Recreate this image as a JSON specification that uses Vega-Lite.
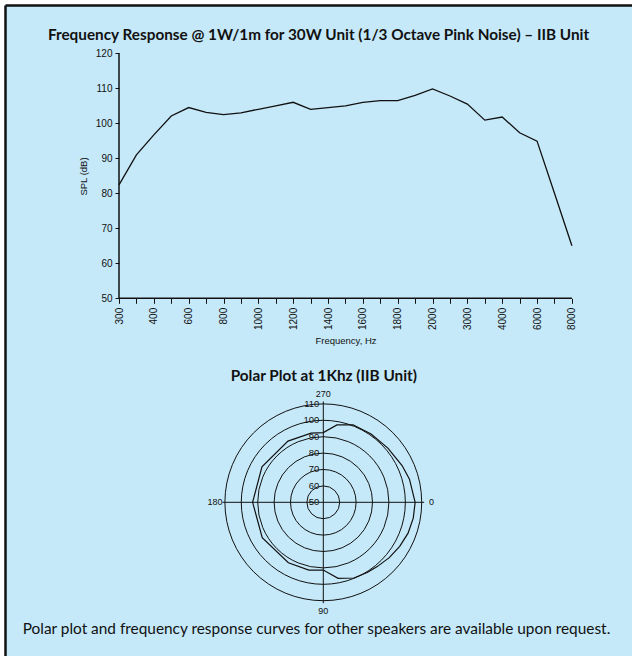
{
  "$schema": "https://vega.github.io/schema/vega-lite/v6.json",
  "width": 627,
  "height": 651,
  "autosize": {"type": "none"},
  "padding": {"left": 5, "top": 5, "right": 0, "bottom": 0},
  "background": "#ffffff",
  "title": {
    "text": "Frequency Response @ 1W/1m for 30W Unit (1/3 Octave Pink Noise) – IIB Unit",
    "offset": -38,
    "anchor": "middle",
    "frame": "group",
    "font": "Lato",
    "fontSize": 15.3,
    "fontWeight": "bold",
    "color": "#111111"
  },
  "datasets": {
    "freq": [
      {"f": 300, "spl": 82.4}, {"f": 350, "spl": 91.0}, {"f": 400, "spl": 96.7},
      {"f": 500, "spl": 102.1}, {"f": 600, "spl": 104.5}, {"f": 700, "spl": 103.1},
      {"f": 800, "spl": 102.5}, {"f": 900, "spl": 103.0}, {"f": 1000, "spl": 104.0},
      {"f": 1100, "spl": 105.0}, {"f": 1200, "spl": 106.0}, {"f": 1300, "spl": 104.0},
      {"f": 1400, "spl": 104.5}, {"f": 1500, "spl": 105.0}, {"f": 1600, "spl": 106.0},
      {"f": 1700, "spl": 106.5}, {"f": 1800, "spl": 106.5}, {"f": 1900, "spl": 108.0},
      {"f": 2000, "spl": 109.8}, {"f": 2500, "spl": 107.8}, {"f": 3000, "spl": 105.5},
      {"f": 3500, "spl": 100.9}, {"f": 4000, "spl": 101.8}, {"f": 5000, "spl": 97.3},
      {"f": 6000, "spl": 94.9}, {"f": 7000, "spl": 80.0}, {"f": 8000, "spl": 65.0}
    ],
    "polar": [
      {"angle": 0, "spl": 106.0}, {"angle": 10, "spl": 105.7}, {"angle": 20, "spl": 105.0},
      {"angle": 30, "spl": 103.8}, {"angle": 40, "spl": 102.5}, {"angle": 50, "spl": 101.2},
      {"angle": 58, "spl": 100.5}, {"angle": 68, "spl": 99.8}, {"angle": 79, "spl": 97.2},
      {"angle": 90, "spl": 91.3}, {"angle": 102, "spl": 92.3}, {"angle": 120, "spl": 92.6},
      {"angle": 150, "spl": 93.0}, {"angle": 180, "spl": 93.1}, {"angle": 210, "spl": 93.2},
      {"angle": 240, "spl": 93.1}, {"angle": 260, "spl": 92.8}, {"angle": 270, "spl": 92.5},
      {"angle": 280, "spl": 97.9}, {"angle": 291, "spl": 100.6}, {"angle": 305, "spl": 100.8},
      {"angle": 320, "spl": 101.4}, {"angle": 335, "spl": 103.0}, {"angle": 345, "spl": 104.4},
      {"angle": 360, "spl": 106.0}
    ],
    "rings": [
      {"ring": 50}, {"ring": 60}, {"ring": 70}, {"ring": 80}, {"ring": 90}, {"ring": 100}, {"ring": 110}
    ],
    "anglabels": [
      {"lab": "0", "angle": 0}, {"lab": "90", "angle": 90}, {"lab": "180", "angle": 180}, {"lab": "270", "angle": 270}
    ]
  },
  "layer": [
    {
      "data": {"name": "freq"},
      "layer": [
        {
          "mark": {"type": "line", "color": "#111111", "strokeWidth": 1.3},
          "encoding": {
            "x": {
              "field": "f",
              "type": "ordinal",
              "sort": "ascending",
              "scale": {"type": "point", "padding": 0, "range": [114, 566.9]},
              "axis": {
                "title": "Frequency, Hz",
                "orient": "bottom",
                "offset": -357.7,
                "domain": false,
                "grid": false,
                "ticks": true,
                "tickSize": 5,
                "tickColor": "#111111",
                "labelAngle": -90,
                "labelFont": "Liberation Sans",
                "labelFontSize": 10,
                "labelColor": "#111111",
                "labelPadding": 4,
                "labelOverlap": false,
                "labelExpr": "(datum.value == 300 || (datum.value <= 2000 && datum.value % 200 == 0) || datum.value == 3000 || datum.value == 4000 || datum.value == 6000 || datum.value == 8000) ? datum.label : ''",
                "titleX": 340.5,
                "titleY": 42,
                "titleAlign": "center",
                "titleBaseline": "middle",
                "titleFont": "Liberation Sans",
                "titleFontSize": 9.5,
                "titleFontWeight": "normal",
                "titleColor": "#111111"
              }
            },
            "y": {
              "field": "spl",
              "type": "quantitative",
              "scale": {"domain": [-52.2, 133.8], "nice": false, "zero": false},
              "axis": {
                "title": "SPL (dB)",
                "orient": "left",
                "offset": -114,
                "values": [50, 60, 70, 80, 90, 100, 110, 120],
                "domain": false,
                "grid": false,
                "tickSize": 4,
                "tickColor": "#111111",
                "labelFont": "Liberation Sans",
                "labelFontSize": 10,
                "labelColor": "#111111",
                "labelPadding": 3,
                "titleX": -36,
                "titleY": 171,
                "titleAngle": 270,
                "titleAlign": "center",
                "titleBaseline": "middle",
                "titleFont": "Liberation Sans",
                "titleFontSize": 9.5,
                "titleFontWeight": "normal",
                "titleColor": "#111111"
              }
            }
          }
        },
        {
          "mark": {"type": "line", "color": "#111111", "strokeWidth": 1.5},
          "encoding": {
            "x": {"field": "f", "type": "ordinal"},
            "y": {"datum": 50, "type": "quantitative"}
          }
        },
        {
          "data": {"values": [{}]},
          "mark": {"type": "rule", "color": "#111111", "strokeWidth": 1.5},
          "encoding": {
            "x": {"datum": 300, "type": "ordinal"},
            "y": {"datum": 50, "type": "quantitative"},
            "y2": {"datum": 120}
          }
        }
      ]
    },
    {
      "layer": [
        {
          "data": {"name": "polar"},
          "transform": [
            {"calculate": "(datum.spl - 50) * cos(datum.angle * PI / 180)", "as": "px"},
            {"calculate": "50 - (datum.spl - 50) * sin(datum.angle * PI / 180)", "as": "py"}
          ],
          "mark": {"type": "line", "color": "#111111", "strokeWidth": 1.2},
          "encoding": {
            "x": {
              "field": "px",
              "type": "quantitative",
              "scale": {"domain": [-194.09, 188.23], "nice": false, "zero": false},
              "axis": {
                "orient": "top",
                "offset": 0,
                "domain": true,
                "domainColor": "#111111",
                "domainWidth": 2.5,
                "ticks": false,
                "labels": false,
                "grid": false,
                "title": "Polar Plot at 1Khz (IIB Unit)",
                "titleX": 318.3,
                "titleY": 370,
                "titleAlign": "center",
                "titleBaseline": "middle",
                "titleFont": "Lato",
                "titleFontSize": 15.3,
                "titleFontWeight": "bold",
                "titleColor": "#111111"
              }
            },
            "y": {
              "field": "py",
              "type": "quantitative",
              "scale": {"domain": [-43.72, 353.23], "nice": false, "zero": false},
              "axis": {
                "orient": "left",
                "offset": 0,
                "domain": true,
                "domainColor": "#111111",
                "domainWidth": 2.5,
                "ticks": false,
                "labels": false,
                "grid": false,
                "title": "Polar plot and frequency response curves for other speakers are available upon request.",
                "titleX": 311,
                "titleY": 623,
                "titleAngle": 0,
                "titleAlign": "center",
                "titleBaseline": "middle",
                "titleFont": "Lato",
                "titleFontSize": 15.4,
                "titleFontWeight": "normal",
                "titleColor": "#111111"
              }
            },
            "order": {"field": "angle", "type": "quantitative"}
          }
        },
        {
          "data": {"name": "rings"},
          "transform": [{"filter": "datum.ring > 50"}],
          "mark": {"type": "arc", "theta": 0, "theta2": 6.2832, "filled": false, "color": "#111111", "strokeWidth": 1},
          "encoding": {
            "x": {"datum": 0, "type": "quantitative"},
            "y": {"datum": 50, "type": "quantitative"},
            "radius": {
              "field": "ring",
              "type": "quantitative",
              "stack": null,
              "scale": {"type": "linear", "domain": [50, 110], "range": [0, 98.4], "zero": false}
            }
          }
        },
        {
          "data": {"values": [{}]},
          "mark": {"type": "rule", "color": "#111111", "strokeWidth": 1},
          "encoding": {
            "x": {"datum": -61.5, "type": "quantitative"},
            "x2": {"datum": 61.5},
            "y": {"datum": 50, "type": "quantitative"}
          }
        },
        {
          "data": {"values": [{}]},
          "mark": {"type": "rule", "color": "#111111", "strokeWidth": 1},
          "encoding": {
            "x": {"datum": 0, "type": "quantitative"},
            "y": {"datum": -11.5, "type": "quantitative"},
            "y2": {"datum": 111.5}
          }
        },
        {
          "data": {"name": "rings"},
          "mark": {"type": "text", "align": "right", "baseline": "middle", "dx": -4, "font": "Liberation Sans", "fontSize": 9.5, "color": "#111111"},
          "encoding": {
            "x": {"datum": 0, "type": "quantitative"},
            "y": {"field": "ring", "type": "quantitative"},
            "text": {"field": "ring", "type": "nominal"}
          }
        },
        {
          "data": {"name": "anglabels"},
          "transform": [
            {"calculate": "66 * cos(datum.angle * PI / 180)", "as": "px"},
            {"calculate": "50 - 66 * sin(datum.angle * PI / 180)", "as": "py"}
          ],
          "mark": {"type": "text", "align": "center", "baseline": "middle", "font": "Liberation Sans", "fontSize": 9, "color": "#111111"},
          "encoding": {
            "x": {"field": "px", "type": "quantitative"},
            "y": {"field": "py", "type": "quantitative"},
            "text": {"field": "lab", "type": "nominal"}
          }
        }
      ]
    }
  ],
  "resolve": {
    "scale": {"x": "independent", "y": "independent"},
    "axis": {"x": "independent", "y": "independent"}
  },
  "config": {
    "view": {"fill": "#c5e9f9", "stroke": null},
    "axis": {"grid": false}
  }
}
